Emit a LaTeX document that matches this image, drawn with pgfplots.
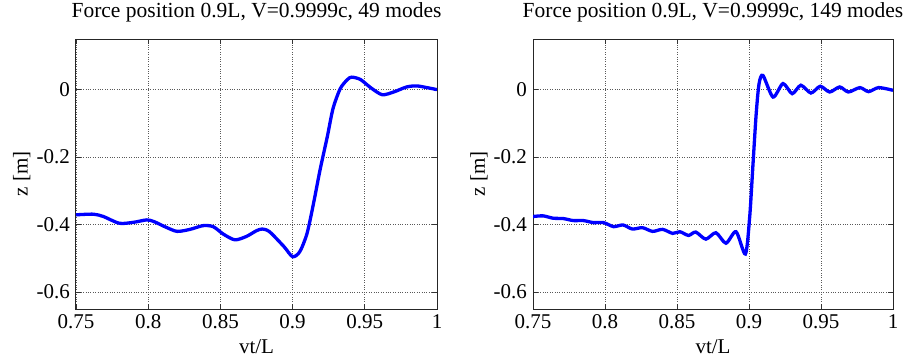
\documentclass[border=0pt]{standalone}
\usepackage{fontspec}
\setmainfont{Liberation Serif}
\usepackage{pgfplots}
\pgfplotsset{compat=1.18}
\begin{document}
\fontsize{21}{25}\selectfont
\begin{tikzpicture}
\pgfplotsset{
  mystyle/.style={
    scale only axis, width=361pt, height=270pt,
    xmin=0.75, xmax=1, ymin=-0.65, ymax=0.15,
    xtick={0.75,0.8,0.85,0.9,0.95,1},
    xticklabels={0.75,0.8,0.85,0.9,0.95,1},
    ytick={-0.6,-0.4,-0.2,0},
    yticklabels={-0.6,-0.4,-0.2,0},
    tick align=inside, tick pos=both, major tick length=5pt,
    every tick/.style={black!80, line width=0.8pt},
    grid=major,
    major grid style={dotted, black!65, line width=0.8pt},
    axis line style={black!85, line width=1pt},
    ticklabel style={font=\fontsize{21}{25}\selectfont},
    xticklabel style={yshift=2pt},
    yticklabel style={xshift=1pt},
    label style={font=\fontsize{21}{25}\selectfont},
    title style={font=\fontsize{21.5}{26}\selectfont, at={(axis description cs:0.5,1)}, anchor=base, yshift=16pt},
    xlabel style={at={(axis description cs:0.5,0)}, anchor=base, yshift=-44pt},
    ylabel style={at={(axis description cs:-0.15,0.5)}, anchor=center},
    xlabel={vt/L}, ylabel={z [m]},
  }
}
\useasboundingbox (-76pt,-51pt) rectangle (834pt,309pt);
\begin{axis}[mystyle, at={(0pt,0pt)}, anchor=south west,
  title={Force position 0.9L, V=0.9999c, 49 modes}]
\addplot[blue, line width=3.3pt, smooth, tension=0.45] coordinates {
(0.750,-0.371) (0.762,-0.369) (0.769,-0.376) (0.780,-0.396) (0.790,-0.393)
(0.799,-0.386) (0.804,-0.391) (0.812,-0.407) (0.820,-0.420) (0.829,-0.414)
(0.838,-0.403) (0.845,-0.406) (0.852,-0.428) (0.860,-0.445) (0.868,-0.435)
(0.875,-0.418) (0.879,-0.413) (0.884,-0.421) (0.894,-0.465) (0.900,-0.495)
(0.905,-0.480) (0.910,-0.426) (0.9145,-0.337) (0.919,-0.238) (0.924,-0.140)
(0.928,-0.056) (0.933,0.003) (0.938,0.030) (0.941,0.037) (0.947,0.030)
(0.954,0.006) (0.962,-0.015) (0.970,-0.007) (0.979,0.008) (0.986,0.011)
(0.993,0.006) (1.000,0.000)
};
\end{axis}
\begin{axis}[mystyle, at={(457pt,0pt)}, anchor=south west, width=360pt,
  title={Force position 0.9L, V=0.9999c, 149 modes}]
\addplot[blue, line width=3.3pt, smooth, tension=0.45] coordinates {
(0.750,-0.376) (0.757,-0.374) (0.764,-0.381) (0.771,-0.382) (0.778,-0.388)
(0.785,-0.388) (0.792,-0.394) (0.799,-0.394) (0.806,-0.406) (0.8125,-0.401)
(0.819,-0.413) (0.826,-0.409) (0.833,-0.420) (0.840,-0.414) (0.847,-0.426)
(0.852,-0.421) (0.858,-0.432) (0.863,-0.422) (0.870,-0.443) (0.877,-0.424)
(0.884,-0.455) (0.891,-0.421) (0.8975,-0.487) (0.9005,-0.376) (0.9028,-0.219)
(0.905,-0.071) (0.907,0.018) (0.9097,0.042) (0.9167,-0.022) (0.9236,0.018)
(0.930,-0.012) (0.936,0.013) (0.943,-0.010) (0.9495,0.010) (0.956,-0.007)
(0.963,0.008) (0.969,-0.007) (0.977,0.006) (0.983,-0.006) (0.990,0.006)
(1.000,-0.002)
};
\end{axis}
\end{tikzpicture}
\end{document}
